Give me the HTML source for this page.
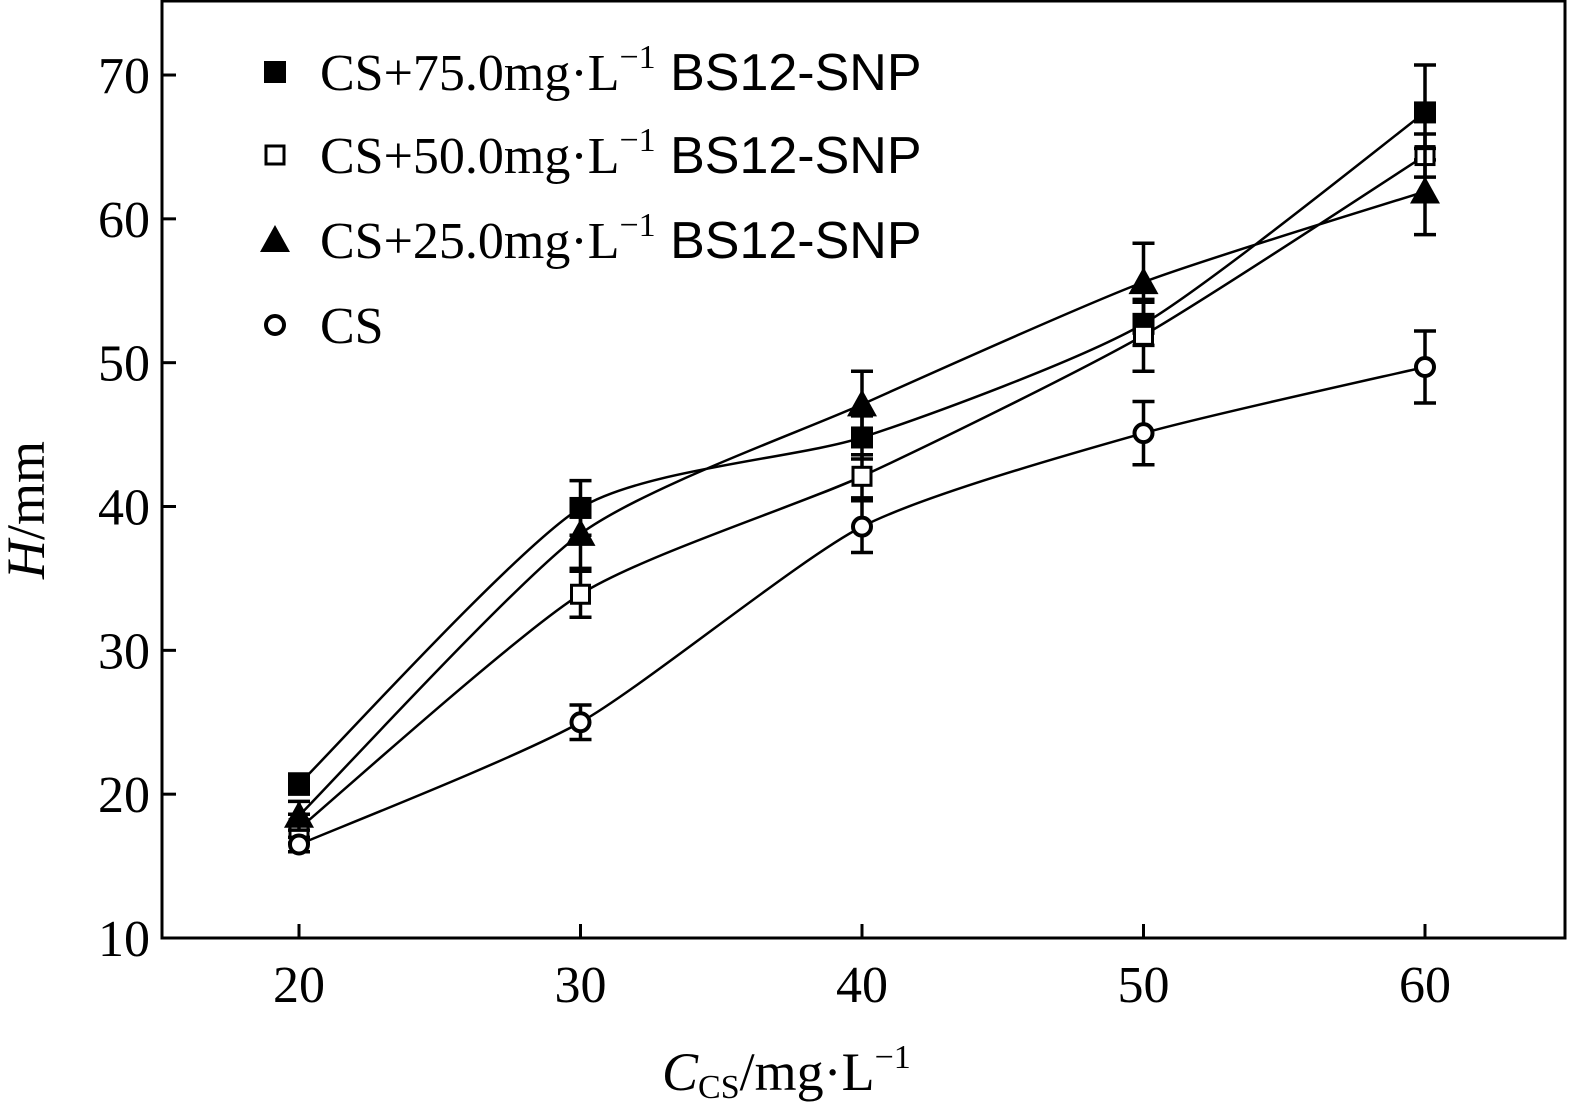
<!DOCTYPE html>
<html><head><meta charset="utf-8"><style>
html,body{margin:0;padding:0;background:#fff;}
svg text{font-family:"Liberation Serif",serif;fill:#000;}
</style></head><body>
<svg id="chart" width="1577" height="1109" viewBox="0 0 1577 1109" xmlns="http://www.w3.org/2000/svg">
<rect x="162" y="1" width="1403" height="937" fill="none" stroke="#000" stroke-width="3"/>
<g id="axes"></g>
<g id="series"></g>
<g id="legend"></g>
<text x="662" y="1090" font-size="54"><tspan font-style="italic">C</tspan><tspan font-size="34" dy="8">CS</tspan><tspan dy="-8">/mg·L</tspan><tspan font-size="34" dy="-22">−1</tspan></text>
<text transform="translate(44,510) rotate(-90)" text-anchor="middle" font-size="54"><tspan font-style="italic">H</tspan>/mm</text>
</svg>
<script>
const xCats=[20,30,40,50,60];
const yTicks=[10,20,30,40,50,60,70];
const filledSq=[20.7,39.9,44.8,52.7,67.4];
const filledSqErr=[0.7,1.9,1.5,1.5,3.3];
const openSq=[17.6,33.9,42.1,51.9,64.4];
const openSqErr=[1.0,1.6,1.5,2.5,1.5];
const tri=[18.5,38.1,47.1,55.6,61.9];
const triErr=[1.0,2.4,2.3,2.7,3.0];
const circ=[16.5,25.0,38.6,45.1,49.7];
const circErr=[0.5,1.2,1.8,2.2,2.5];
const legendLabels=["CS+75.0mg·L","CS+50.0mg·L","CS+25.0mg·L","CS"];
const NS="http://www.w3.org/2000/svg";
const X=v=>299+(v-20)*28.15;
const Y=v=>938-(v-10)*14.383;
function mk(tag,attrs,parent){const e=document.createElementNS(NS,tag);for(const k in attrs)e.setAttribute(k,attrs[k]);parent.appendChild(e);return e;}
const axes=document.getElementById('axes'),ser=document.getElementById('series'),leg=document.getElementById('legend');
yTicks.forEach(t=>{
 const l=mk('line',{x1:162,x2:176,y1:Y(t),y2:Y(t),stroke:'#000','stroke-width':3},axes);
 
 
 const tx=mk('text',{x:150,y:Y(t)+18,'text-anchor':'end','font-size':52},axes);
 tx.textContent=t;
 
 
});
xCats.forEach(c=>{
 const l=mk('line',{x1:X(c),x2:X(c),y1:938,y2:924,stroke:'#000','stroke-width':3},axes);
 
 
 const tx=mk('text',{x:X(c),y:1002,'text-anchor':'middle','font-size':52},axes);
 tx.textContent=c;
 
 
});
function curve(vals){
 const p=vals.map((v,i)=>[X(xCats[i]),Y(v)]);
 let d=`M${p[0][0]},${p[0][1]}`;
 const k=1/9;
 for(let i=0;i<p.length-1;i++){
  const p0=p[i-1]||p[i],p1=p[i],p2=p[i+1],p3=p[i+2]||p2;
  d+=` C${p1[0]+(p2[0]-p0[0])*k},${p1[1]+(p2[1]-p0[1])*k} ${p2[0]-(p3[0]-p1[0])*k},${p2[1]-(p3[1]-p1[1])*k} ${p2[0]},${p2[1]}`;
 }
 return d;
}
function marker(type,x,y,g){
 if(type==='fs')return mk('rect',{x:x-11,y:y-11,width:22,height:22,fill:'#000'},g);
 if(type==='os')return mk('rect',{x:x-9,y:y-9,width:18,height:18,fill:'#fff',stroke:'#000','stroke-width':3},g);
 if(type==='tr')return mk('polygon',{points:`${x},${y-15} ${x-15},${y+12} ${x+15},${y+12}`,fill:'#000'},g);
 return mk('circle',{cx:x,cy:y,r:9,fill:'#fff',stroke:'#000','stroke-width':4},g);
}
const series=[['fs',filledSq,filledSqErr,'series-75'],['os',openSq,openSqErr,'series-50'],['tr',tri,triErr,'series-25'],['ci',circ,circErr,'series-cs']];
series.forEach(([t,vals,errs,name])=>{
 const g=mk('g',{},ser);
 
 
 const p=mk('path',{d:curve(vals),fill:'none',stroke:'#000','stroke-width':2.5},g);
 
 
 vals.forEach((v,i)=>{
  const x=X(xCats[i]);
  const eb=mk('path',{d:`M${x},${Y(v+errs[i])}V${Y(v-errs[i])}M${x-11},${Y(v+errs[i])}h22M${x-11},${Y(v-errs[i])}h22`,stroke:'#000','stroke-width':3.5,fill:'none'},g);
  
  
  const m=marker(t,x,Y(v),g);
  
  
 });
});
const legY=[72,155,240,325];
['fs','os','tr','ci'].forEach((t,i)=>{
 const m=marker(t,275,legY[i],leg);
 
 
 const tx=mk('text',{x:320,y:legY[i]+18,'font-size':52},leg);
 
 
 if(i<3){
  tx.appendChild(document.createTextNode(legendLabels[i]));
  const s=mk('tspan',{'font-size':34,dy:-22},tx);s.textContent='−1';
  const s2=mk('tspan',{dy:22,'font-family':'Liberation Sans, sans-serif'},tx);s2.textContent=' BS12-SNP';
 } else tx.textContent=legendLabels[i];
});
</script>
</body></html>
